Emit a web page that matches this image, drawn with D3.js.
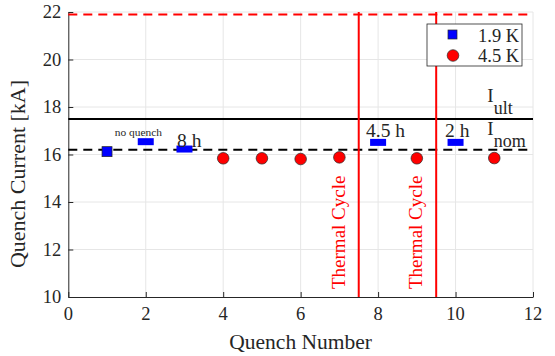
<!DOCTYPE html>
<html>
<head>
<meta charset="utf-8">
<script src="https://cdn.jsdelivr.net/npm/d3@7"></script>
<style>
  body { margin: 0; background: #fff; }
  svg text { font-family: "Liberation Serif", "Times New Roman", serif; fill: #262626; }
</style>
</head>
<body>
<div id="chart"></div>
<script>
// data
const quench19X = [1];
const quench19Y = [16.12];
const noQuenchX = [2, 3, 8, 10];      // 1.9 K ramps drawn as flat bars
const noQuenchY = [16.54, 16.23, 16.51, 16.51];
const quench45X = [4, 5, 6, 7, 9, 11];
const quench45Y = [15.84, 15.84, 15.81, 15.88, 15.84, 15.85];
const thermalCycles = [7.5, 9.5];
const iUlt = 17.5;
const iNom = 16.2;
const iShort = 21.9;
const xTicks = [0, 2, 4, 6, 8, 10, 12];
const yTicks = [10, 12, 14, 16, 18, 20, 22];

const width = 555;
const height = 356;
const margin_left = 68.3;
const margin_right = 22;
const margin_top = 12;
const margin_bottom = 59;

const svg = d3.select("#chart").append("svg")
    .attr("width", width).attr("height", height);

const x = d3.scaleLinear().domain([0, 12]).range([margin_left, width - margin_right]);
const y = d3.scaleLinear().domain([10, 22]).range([height - margin_bottom, margin_top]);

// grid
svg.append("g").selectAll("line").data(xTicks.slice(1)).enter().append("line")
    .attr("x1", d => x(d)).attr("x2", d => x(d))
    .attr("y1", y(10)).attr("y2", y(22))
    .attr("stroke", "#e6e6e6").attr("stroke-width", 1);
svg.append("g").selectAll("line").data(yTicks.slice(1)).enter().append("line")
    .attr("x1", x(0)).attr("x2", x(12))
    .attr("y1", d => y(d)).attr("y2", d => y(d))
    .attr("stroke", "#e6e6e6").attr("stroke-width", 1);

// axes (ticks pointing inward)
const xAxis = d3.axisTop(x).tickValues(xTicks).tickSize(5).tickSizeOuter(0);
const yAxis = d3.axisRight(y).tickValues(yTicks).tickSize(5).tickSizeOuter(0);

const gx = svg.append("g").attr("transform", `translate(0,${y(10)})`).call(xAxis);
gx.selectAll("text").remove();
const gy = svg.append("g").attr("transform", `translate(${x(0)},0)`).call(yAxis);
gy.selectAll("text").remove();
svg.selectAll(".domain, .tick line").attr("stroke", "#262626");
svg.selectAll(".domain").attr("stroke-width", 1);

svg.append("g").selectAll("text").data(xTicks).enter().append("text")
    .attr("x", d => x(d)).attr("y", y(10) + 23)
    .attr("text-anchor", "middle").attr("font-size", 18.5)
    .text(d => d);
svg.append("g").selectAll("text").data(yTicks).enter().append("text")
    .attr("x", x(0) - 7).attr("y", d => y(d) + 6)
    .attr("text-anchor", "end").attr("font-size", 18.5)
    .text(d => d);

svg.append("text")
    .attr("x", (x(0) + x(12)) / 2).attr("y", 349)
    .attr("text-anchor", "middle").attr("font-size", 21.5)
    .text("Quench Number");
svg.append("text")
    .attr("transform", "translate(25,174) rotate(-90)")
    .attr("text-anchor", "middle").attr("font-size", 22)
    .text("Quench Current [kA]");

// reference lines
svg.append("line")
    .attr("x1", x(0)).attr("x2", x(12)).attr("y1", y(iShort)).attr("y2", y(iShort))
    .attr("stroke", "#ff0000").attr("stroke-width", 2).attr("stroke-dasharray", "9,6");
svg.append("line")
    .attr("x1", x(0)).attr("x2", x(12)).attr("y1", y(iUlt)).attr("y2", y(iUlt))
    .attr("stroke", "#000").attr("stroke-width", 2);
svg.append("line")
    .attr("x1", x(0)).attr("x2", x(12)).attr("y1", y(iNom)).attr("y2", y(iNom))
    .attr("stroke", "#000").attr("stroke-width", 2).attr("stroke-dasharray", "9,6");

svg.append("g").selectAll("line").data(thermalCycles).enter().append("line")
    .attr("x1", d => x(d)).attr("x2", d => x(d))
    .attr("y1", y(10)).attr("y2", y(22))
    .attr("stroke", "#ff0000").attr("stroke-width", 2);

svg.append("g").selectAll("text").data(thermalCycles).enter().append("text")
    .attr("transform", d => `translate(${x(d) - 14},${y(10) - 8}) rotate(-90)`)
    .attr("font-size", 19).style("fill", "#ff0000")
    .text("Thermal Cycle");

// markers
svg.append("g").selectAll("rect").data(noQuenchX).enter().append("rect")
    .attr("x", d => x(d) - 8).attr("y", (d, i) => y(noQuenchY[i]) - 3.5)
    .attr("width", 16).attr("height", 7)
    .attr("fill", "#0000ff");
svg.append("g").selectAll("rect").data(quench19X).enter().append("rect")
    .attr("x", d => x(d) - 5).attr("y", (d, i) => y(quench19Y[i]) - 5)
    .attr("width", 10).attr("height", 10)
    .attr("fill", "#0000ff").attr("stroke", "#262626").attr("stroke-width", 0.7);
svg.append("g").selectAll("circle").data(quench45X).enter().append("circle")
    .attr("cx", d => x(d)).attr("cy", (d, i) => y(quench45Y[i]))
    .attr("r", 5.8)
    .attr("fill", "#ff0000").attr("stroke", "#262626").attr("stroke-width", 0.7);

// annotations
svg.append("text").attr("x", x(1.2)).attr("y", y(16.78))
    .attr("font-size", 11.4).text("no quench");
const notes = [["8 h", 2.81, 16.32], ["4.5 h", 7.69, 16.74], ["2 h", 9.73, 16.74]];
svg.append("g").selectAll("text").data(notes).enter().append("text")
    .attr("x", d => x(d[1])).attr("y", d => y(d[2]))
    .attr("font-size", 19.5).text(d => d[0]);

const ult = svg.append("text").attr("x", x(10.82)).attr("y", y(18.22)).attr("font-size", 19);
ult.append("tspan").text("I");
ult.append("tspan").attr("dy", 12).attr("font-size", 18).text("ult");
const nom = svg.append("text").attr("x", x(10.82)).attr("y", y(16.82)).attr("font-size", 19);
nom.append("tspan").text("I");
nom.append("tspan").attr("dy", 12).attr("font-size", 18).text("nom");

// legend
const lg = svg.append("g").attr("transform", "translate(427,24)");
lg.append("rect").attr("width", 95).attr("height", 42)
    .attr("fill", "#fff").attr("stroke", "#262626").attr("stroke-width", 0.8);
lg.append("rect").attr("x", 21).attr("y", 6).attr("width", 9).attr("height", 9)
    .attr("fill", "#0000ff").attr("stroke", "#262626").attr("stroke-width", 0.7);
lg.append("circle").attr("cx", 26).attr("cy", 31.5).attr("r", 5.8)
    .attr("fill", "#ff0000").attr("stroke", "#262626").attr("stroke-width", 0.7);
lg.append("text").attr("x", 51).attr("y", 17.5).attr("font-size", 18.5).text("1.9 K");
lg.append("text").attr("x", 51).attr("y", 38).attr("font-size", 18.5).text("4.5 K");
</script>
</body>
</html>
